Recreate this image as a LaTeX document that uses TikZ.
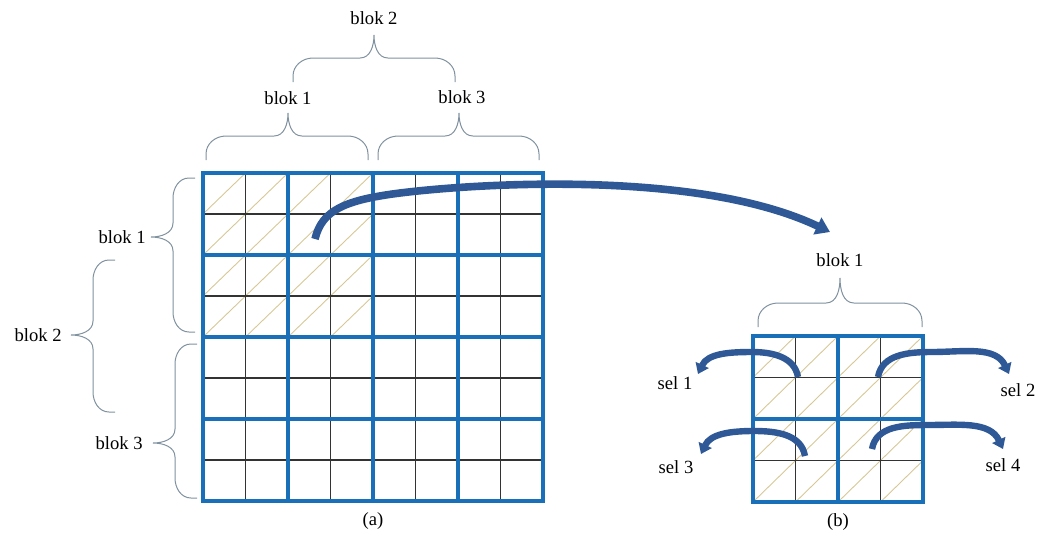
\documentclass[tikz,border=0pt]{standalone}
\usepackage{fontspec}
\setmainfont{Liberation Serif}
\usepackage{xcolor}
\usepackage{tikz}
\usetikzlibrary{arrows.meta}

\definecolor{gridblue}{RGB}{25,112,185}
\definecolor{arrowblue}{RGB}{47,88,150}
\definecolor{bracegray}{RGB}{128,146,160}
\definecolor{hatchtan}{RGB}{214,200,150}

\tikzset{
  hatch/.style={hatchtan,line width=0.45pt},
  cellline/.style={black!80,line width=0.6pt},
  blockline/.style={gridblue,line width=2pt,line cap=rect},
  bracepath/.style={bracegray,line width=0.5pt},
  bendarrow/.style={arrowblue,line width=3.8pt,-{Triangle[width=9pt,length=7pt]}},
  selarrow/.style={arrowblue,line width=3.2pt,-{Triangle[width=7pt,length=5pt]}},
  lbl/.style={font=\fontsize{9.3}{11}\selectfont,inner sep=1pt}
}

\begin{document}
\begin{tikzpicture}[x=0.5pt,y=-0.5pt]
	\useasboundingbox (0,0) rectangle (1040,537);
	% matrix (a)
	\begin{scope}[shift={(203,173)},x=21.25pt,y=-20.5pt]
		\foreach \c in {0,...,3}
			\foreach \r in {0,...,3}
				\draw[hatch] (\c,\r+1) -- (\c+1,\r);
		\foreach \k in {1,3,5,7} {
			\draw[cellline] (\k,0) -- (\k,8);
			\draw[cellline] (0,\k) -- (8,\k);
		}
		\foreach \k in {0,2,...,8} {
			\draw[blockline] (\k,0) -- (\k,8);
			\draw[blockline] (0,\k) -- (8,\k);
		}
	\end{scope}
	% matrix (b)
	\begin{scope}[shift={(753,336)},x=21.25pt,y=-20.75pt]
		\foreach \c in {0,...,3}
			\foreach \r in {0,...,3}
				\draw[hatch] (\c,\r+1) -- (\c+1,\r);
		\foreach \k in {1,3} {
			\draw[cellline] (\k,0) -- (\k,4);
			\draw[cellline] (0,\k) -- (4,\k);
		}
		\foreach \k in {0,2,4} {
			\draw[blockline] (\k,0) -- (\k,4);
			\draw[blockline] (0,\k) -- (4,\k);
		}
	\end{scope}
	% braces
	\foreach \a/\m/\b/\y/\h in {206/288/368/160/47,378/459/539/160/47,293/374/455/82/47,758/840/922/327/49}
		\draw[bracepath] (\a,\y) -- (\a,\y-6) to[out=90,in=180] (\a+20,\y-24) -- (\m-14,\y-24)
		to[out=0,in=-90] (\m,\y-\h) to[out=-90,in=180] (\m+14,\y-24) -- (\b-20,\y-24)
		to[out=0,in=90] (\b,\y-6) -- (\b,\y);
	\foreach \x/\t/\m/\u in {195/178/237/332,115/260/335/412,197/344/443/498}
		\draw[bracepath] (\x,\t) -- (\x-6,\t) to[out=180,in=90] (\x-22,\t+20) -- (\x-22,\m-14)
		to[out=-90,in=0] (\x-44,\m) to[out=0,in=90] (\x-22,\m+14) -- (\x-22,\u-20)
		to[out=-90,in=180] (\x-6,\u) -- (\x,\u);
	% labels
	\node[lbl] (topone) at (288,98) {blok 1};
	\node[lbl] (topthree) at (462,97) {blok 3};
	\node[lbl] (toptwo) at (374,18) {blok 2};
	\node[lbl,anchor=east] (leftone) at (148,237) {blok 1};
	\node[lbl,anchor=east] (lefttwo) at (64,335) {blok 2};
	\node[lbl,anchor=east] (leftthree) at (145,443) {blok 3};
	\node[lbl] (smallone) at (840,260) {blok 1};
	\node[lbl] (selone) at (675,383) {sel 1};
	\node[lbl] (seltwo) at (1018,390) {sel 2};
	\node[lbl] (selthree) at (676,467) {sel 3};
	\node[lbl] (selfour) at (1003,465) {sel 4};
	\node[lbl] (capa) at (373,521) {(a)};
	\node[lbl] (capb) at (838,522) {(b)};
	% arrows
	\coordinate (tailA) at (315,239);
	\coordinate (headA) at (830,232);
	\draw[bendarrow] (tailA) .. controls (322,210) and (345,200) .. (400,193)
		.. controls (480,183) and (700,170) .. (headA);
	\coordinate (tailone) at (798,377);
	\coordinate (headone) at (698,374);
	\coordinate (tailtwo) at (878,377);
	\coordinate (headtwo) at (1009,374);
	\coordinate (tailthree) at (805,456);
	\coordinate (headthree) at (701,454);
	\coordinate (tailfour) at (872,449);
	\coordinate (headfour) at (1003,449);
	\draw[selarrow] (tailone) to[out=100,in=0] (752,352) to[out=180,in=65] (headone);
	\draw[selarrow] (tailthree) to[out=100,in=0] (754,431) to[out=180,in=65] (headthree);
	\draw[selarrow] (tailtwo) to[out=80,in=180] (932,352) to[out=0,in=115] (headtwo);
	\draw[selarrow] (tailfour) to[out=80,in=180] (928,425) to[out=0,in=115] (headfour);
\end{tikzpicture}
\end{document}
